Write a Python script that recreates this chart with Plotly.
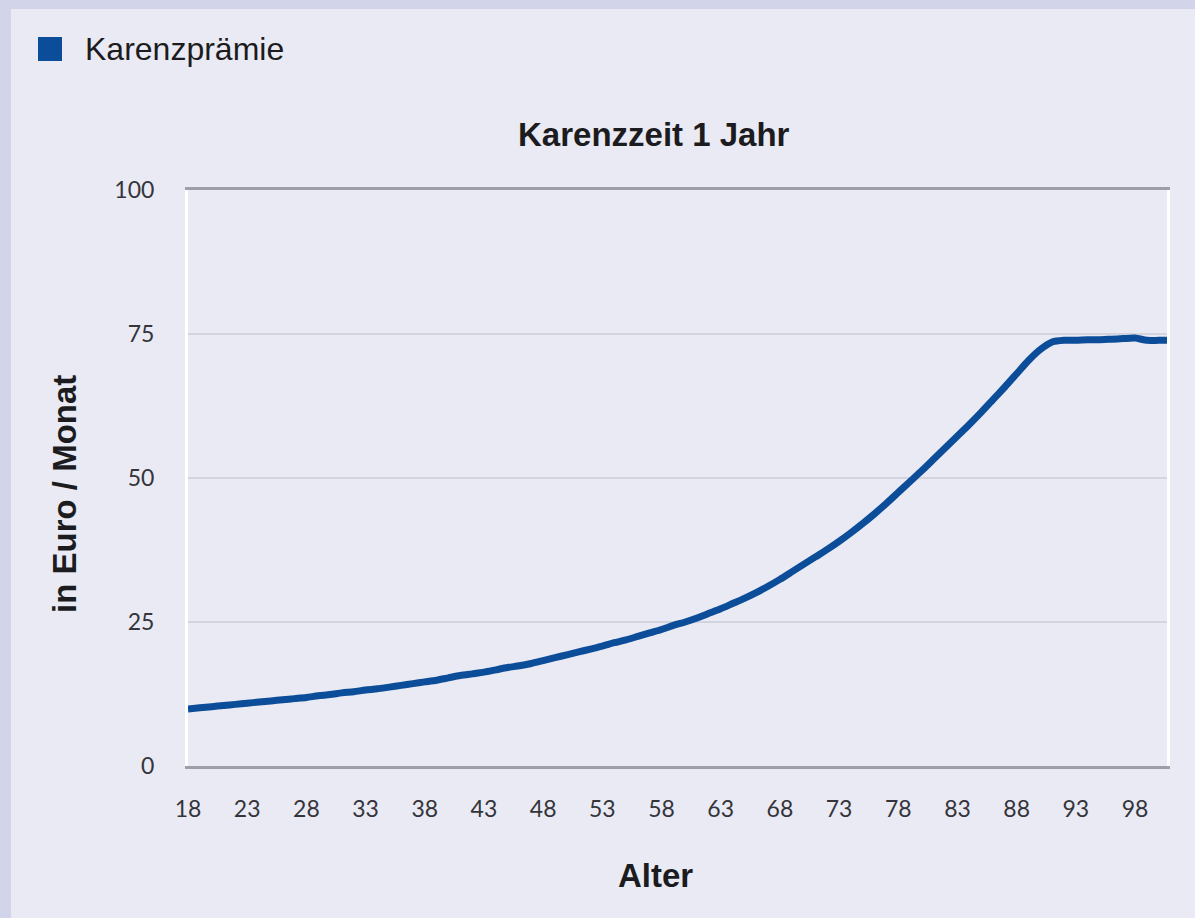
import plotly.graph_objects as go

# ---- data ----
ages = list(range(18, 102))
premium = [
    9.9, 10.1, 10.3, 10.5, 10.7, 10.9, 11.1, 11.3, 11.5, 11.7,      # 18-27
    11.9, 12.2, 12.4, 12.7, 12.9, 13.2, 13.4, 13.7, 14.0, 14.3,     # 28-37
    14.6, 14.9, 15.3, 15.7, 16.0, 16.3, 16.7, 17.1, 17.4, 17.8,     # 38-47
    18.3, 18.8, 19.3, 19.8, 20.3, 20.8, 21.4, 21.9, 22.5, 23.1,     # 48-57
    23.7, 24.4, 25.0, 25.7, 26.5, 27.3, 28.2, 29.1, 30.1, 31.2,     # 58-67
    32.4, 33.7, 35.0, 36.3, 37.6, 39.0, 40.5, 42.1, 43.8, 45.6,     # 68-77
    47.5, 49.4, 51.3, 53.3, 55.3, 57.3, 59.3, 61.4, 63.6, 65.8,     # 78-87
    68.1, 70.4, 72.3, 73.6, 73.9, 73.9, 74.0, 74.0, 74.1, 74.2,     # 88-97
    74.3, 73.9, 73.9, 73.9,                                         # 98-101
]
x_ticks = list(range(18, 99, 5))
y_ticks = [0, 25, 50, 75, 100]

series_name = "Karenzprämie"
chart_title = "Karenzzeit 1 Jahr"
x_title = "Alter"
y_title = "in Euro / Monat"

# ---- styling ----
BG = "#e9eaf4"
LINE = "#0b4d98"
W, H = 1195, 918
L, R, T, B = 188, 28, 190, 152
pw, ph = W - L - R, H - T - B


def px(xp):
    return (xp - L) / pw


def py(yp):
    return (H - B - yp) / ph


fig = go.Figure()
fig.add_trace(go.Scatter(
    x=ages, y=premium, mode="lines", name=series_name, showlegend=False,
    line=dict(color=LINE, width=7, shape="spline", smoothing=0.7),
    hoverinfo="x+y",
))

fig.update_layout(
    width=W, height=H,
    margin=dict(l=L, r=R, t=T, b=B, pad=0),
    paper_bgcolor=BG, plot_bgcolor=BG,
    font=dict(family="Lato, Open Sans, sans-serif", color="#2a2a2e"),
    showlegend=False,
    xaxis=dict(
        range=[18, 100.7], tickvals=x_ticks, ticktext=[str(v) for v in x_ticks],
        showgrid=False, zeroline=False,
        showline=True, linecolor="#9c9ea8", linewidth=3, mirror=True,
        ticks="", ticklabelstandoff=20,
        tickfont=dict(family="Lato, sans-serif", size=23, color="#34343a"),
    ),
    yaxis=dict(
        range=[0, 100], tickvals=y_ticks, ticktext=[str(v) for v in y_ticks],
        showgrid=True, gridcolor="#d3d5de", gridwidth=2, zeroline=False,
        showline=True, linecolor="#ffffff", linewidth=3, mirror=True,
        ticks="", ticklabelstandoff=26,
        tickfont=dict(family="Lato, sans-serif", size=23, color="#34343a"),
    ),
)

bold = "Liberation Sans, Arial, sans-serif"
fig.add_annotation(text=f"<b>{chart_title}</b>", xref="paper", yref="paper",
                   x=px(654), y=py(135), xanchor="center", yanchor="middle",
                   showarrow=False, font=dict(family=bold, size=33, color="#1c1c20"))
fig.add_annotation(text=f"<b>{x_title}</b>", xref="paper", yref="paper",
                   x=px(655), y=py(875), xanchor="center", yanchor="middle",
                   showarrow=False, font=dict(family=bold, size=33, color="#1c1c20"))
fig.add_annotation(text=f"<b>{y_title}</b>", xref="paper", yref="paper",
                   x=px(64), y=py(494), xanchor="center", yanchor="middle",
                   textangle=-90, showarrow=False,
                   font=dict(family=bold, size=33, color="#1c1c20"))

# legend (square swatch + label)
fig.add_shape(type="rect", xref="paper", yref="paper",
              x0=px(38), x1=px(62), y0=py(61), y1=py(37),
              fillcolor=LINE, line=dict(width=0))
fig.add_annotation(text=series_name, xref="paper", yref="paper",
                   x=px(83), y=py(49), xanchor="left", yanchor="middle",
                   showarrow=False, font=dict(family=bold, size=32, color="#1c1c20"))

# outer frame bands (top and left)
fig.add_shape(type="rect", xref="paper", yref="paper", layer="below",
              x0=px(0), x1=px(W), y0=py(9), y1=py(0),
              fillcolor="#d2d5ea", line=dict(width=0))
fig.add_shape(type="rect", xref="paper", yref="paper", layer="below",
              x0=px(0), x1=px(11), y0=py(H), y1=py(0),
              fillcolor="#d2d5ea", line=dict(width=0))

fig.write_html(
    "out.html",
    config={"displayModeBar": False},
    post_script="document.body.style.margin='0';document.body.style.background='" + BG + "';",
)
